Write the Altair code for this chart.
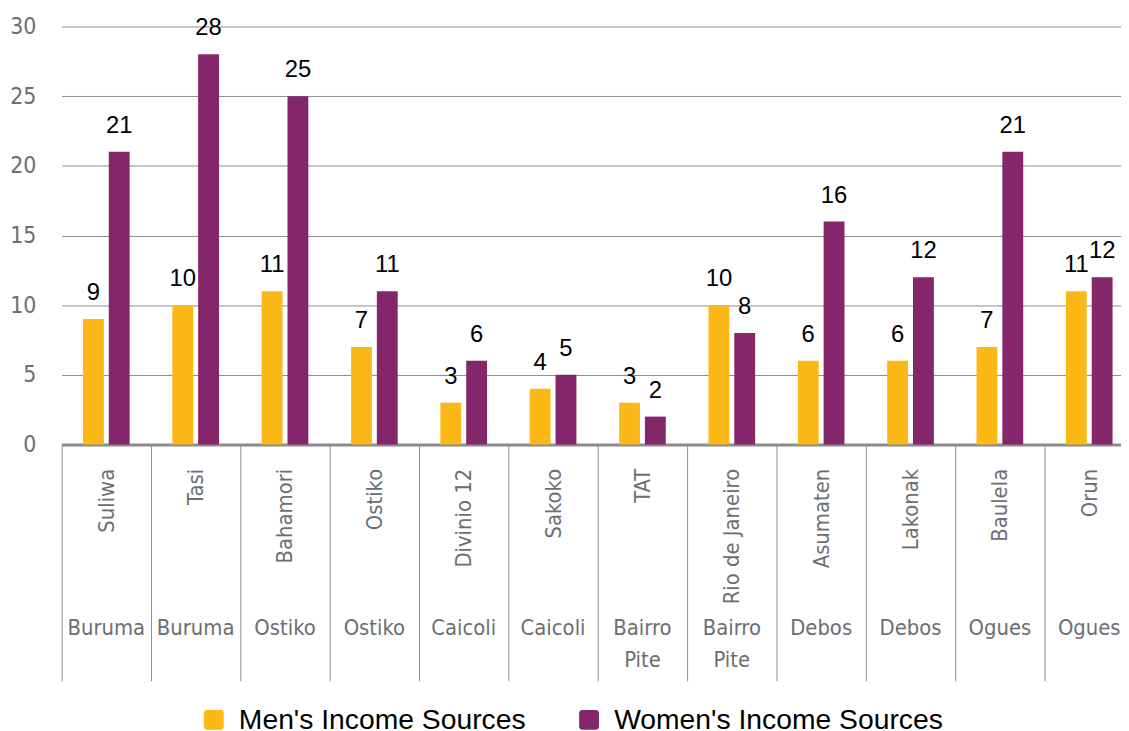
import altair as alt
import pandas as pd

sites = ["Suliwa", "Tasi", "Bahamori", "Ostiko", "Divinio 12", "Sakoko", "TAT",
         "Rio de Janeiro", "Asumaten", "Lakonak", "Baulela", "Orun"]
regions = ["Buruma", "Buruma", "Ostiko", "Ostiko", "Caicoli", "Caicoli", "Bairro\nPite",
           "Bairro\nPite", "Debos", "Debos", "Ogues", "Ogues"]
men = [9, 10, 11, 7, 3, 4, 3, 10, 6, 6, 7, 11]
women = [21, 28, 25, 11, 6, 5, 2, 8, 16, 12, 21, 12]
series_names = ["Men's Income Sources", "Women's Income Sources"]
series_colors = ["#FBB817", "#84266A"]

rows = []
for i, s in enumerate(sites):
    rows.append({"site": s, "region": regions[i], "series": series_names[0], "value": men[i]})
    rows.append({"site": s, "region": regions[i], "series": series_names[1], "value": women[i]})
df = pd.DataFrame(rows)
reg_df = pd.DataFrame({"site": sites, "region": regions})

NARROW = "DejaVu Sans Condensed, Liberation Sans Narrow, sans-serif"
REG = "Liberation Sans, Arial, sans-serif"
GRAY = "#6d6e71"
LINE = "#8c8c8c"

W, H = 1068, 421
TICK = 238

xscale = alt.Scale(domain=sites, range=[1, 1081], paddingInner=0, paddingOuter=0)
offscale = alt.Scale(domain=series_names, paddingInner=0.1923, paddingOuter=0.827)
yscale = alt.Scale(domain=[0, 30], nice=False)

x_enc = alt.X("site:N", scale=xscale, sort=sites,
              axis=alt.Axis(title=None, labelAngle=-90, labelPadding=24 - TICK,
                            tickBand="extent", tickSize=TICK, tickColor=LINE, tickWidth=1,
                            domainColor=LINE, domainWidth=3, labelFont=NARROW,
                            labelFontSize=22, labelColor=GRAY, labelLimit=300, grid=False))
y_enc = alt.Y("value:Q", scale=yscale,
              axis=alt.Axis(title=None, values=[0, 5, 10, 15, 20, 25, 30], grid=True,
                            gridColor=LINE, gridWidth=1, domain=False, ticks=False,
                            labelFont=NARROW, labelFontSize=23, labelColor=GRAY,
                            labelPadding=25))

rounded = ("M -0.65,-1 L 0.65,-1 Q 1,-1 1,-0.65 L 1,0.65 Q 1,1 0.65,1 L -0.65,1 "
           "Q -1,1 -1,0.65 L -1,-0.65 Q -1,-1 -0.65,-1 Z")

bars = alt.Chart(df).mark_bar().encode(
    x=x_enc,
    xOffset=alt.XOffset("series:N", scale=offscale),
    y=y_enc,
    color=alt.Color("series:N", scale=alt.Scale(domain=series_names, range=series_colors),
                    legend=alt.Legend(title=None, orient="none", legendX=140, legendY=684,
                                      direction="horizontal", symbolType=rounded,
                                      symbolSize=400, symbolStrokeWidth=0,
                                      labelFont=REG, labelFontSize=28.5, labelColor="black",
                                      columnPadding=49, labelOffset=11, labelLimit=500)),
)

labels = alt.Chart(df).mark_text(font=REG, fontSize=24, color="black", dy=-19,
                                 baseline="alphabetic").encode(
    x=alt.X("site:N", scale=xscale, sort=sites),
    xOffset=alt.XOffset("series:N", scale=offscale),
    y=alt.Y("value:Q", scale=yscale),
    text=alt.Text("value:Q"),
)

region_text = alt.Chart(reg_df).mark_text(font=NARROW, fontSize=22, color=GRAY,
                                          baseline="middle", lineBreak="\n",
                                          lineHeight=32).encode(
    x=alt.X("site:N", scale=xscale, sort=sites),
    y=alt.value(H + 185),
    text="region:N",
)

chart = alt.layer(bars, labels, region_text).properties(
    width=W, height=H,
    autosize=alt.AutoSizeParams(type="none"),
    padding={"left": 53, "top": 16, "right": 0, "bottom": 286},
).configure_view(stroke=None)

chart.save("out.html", embed_options={"renderer": "svg", "actions": False})
